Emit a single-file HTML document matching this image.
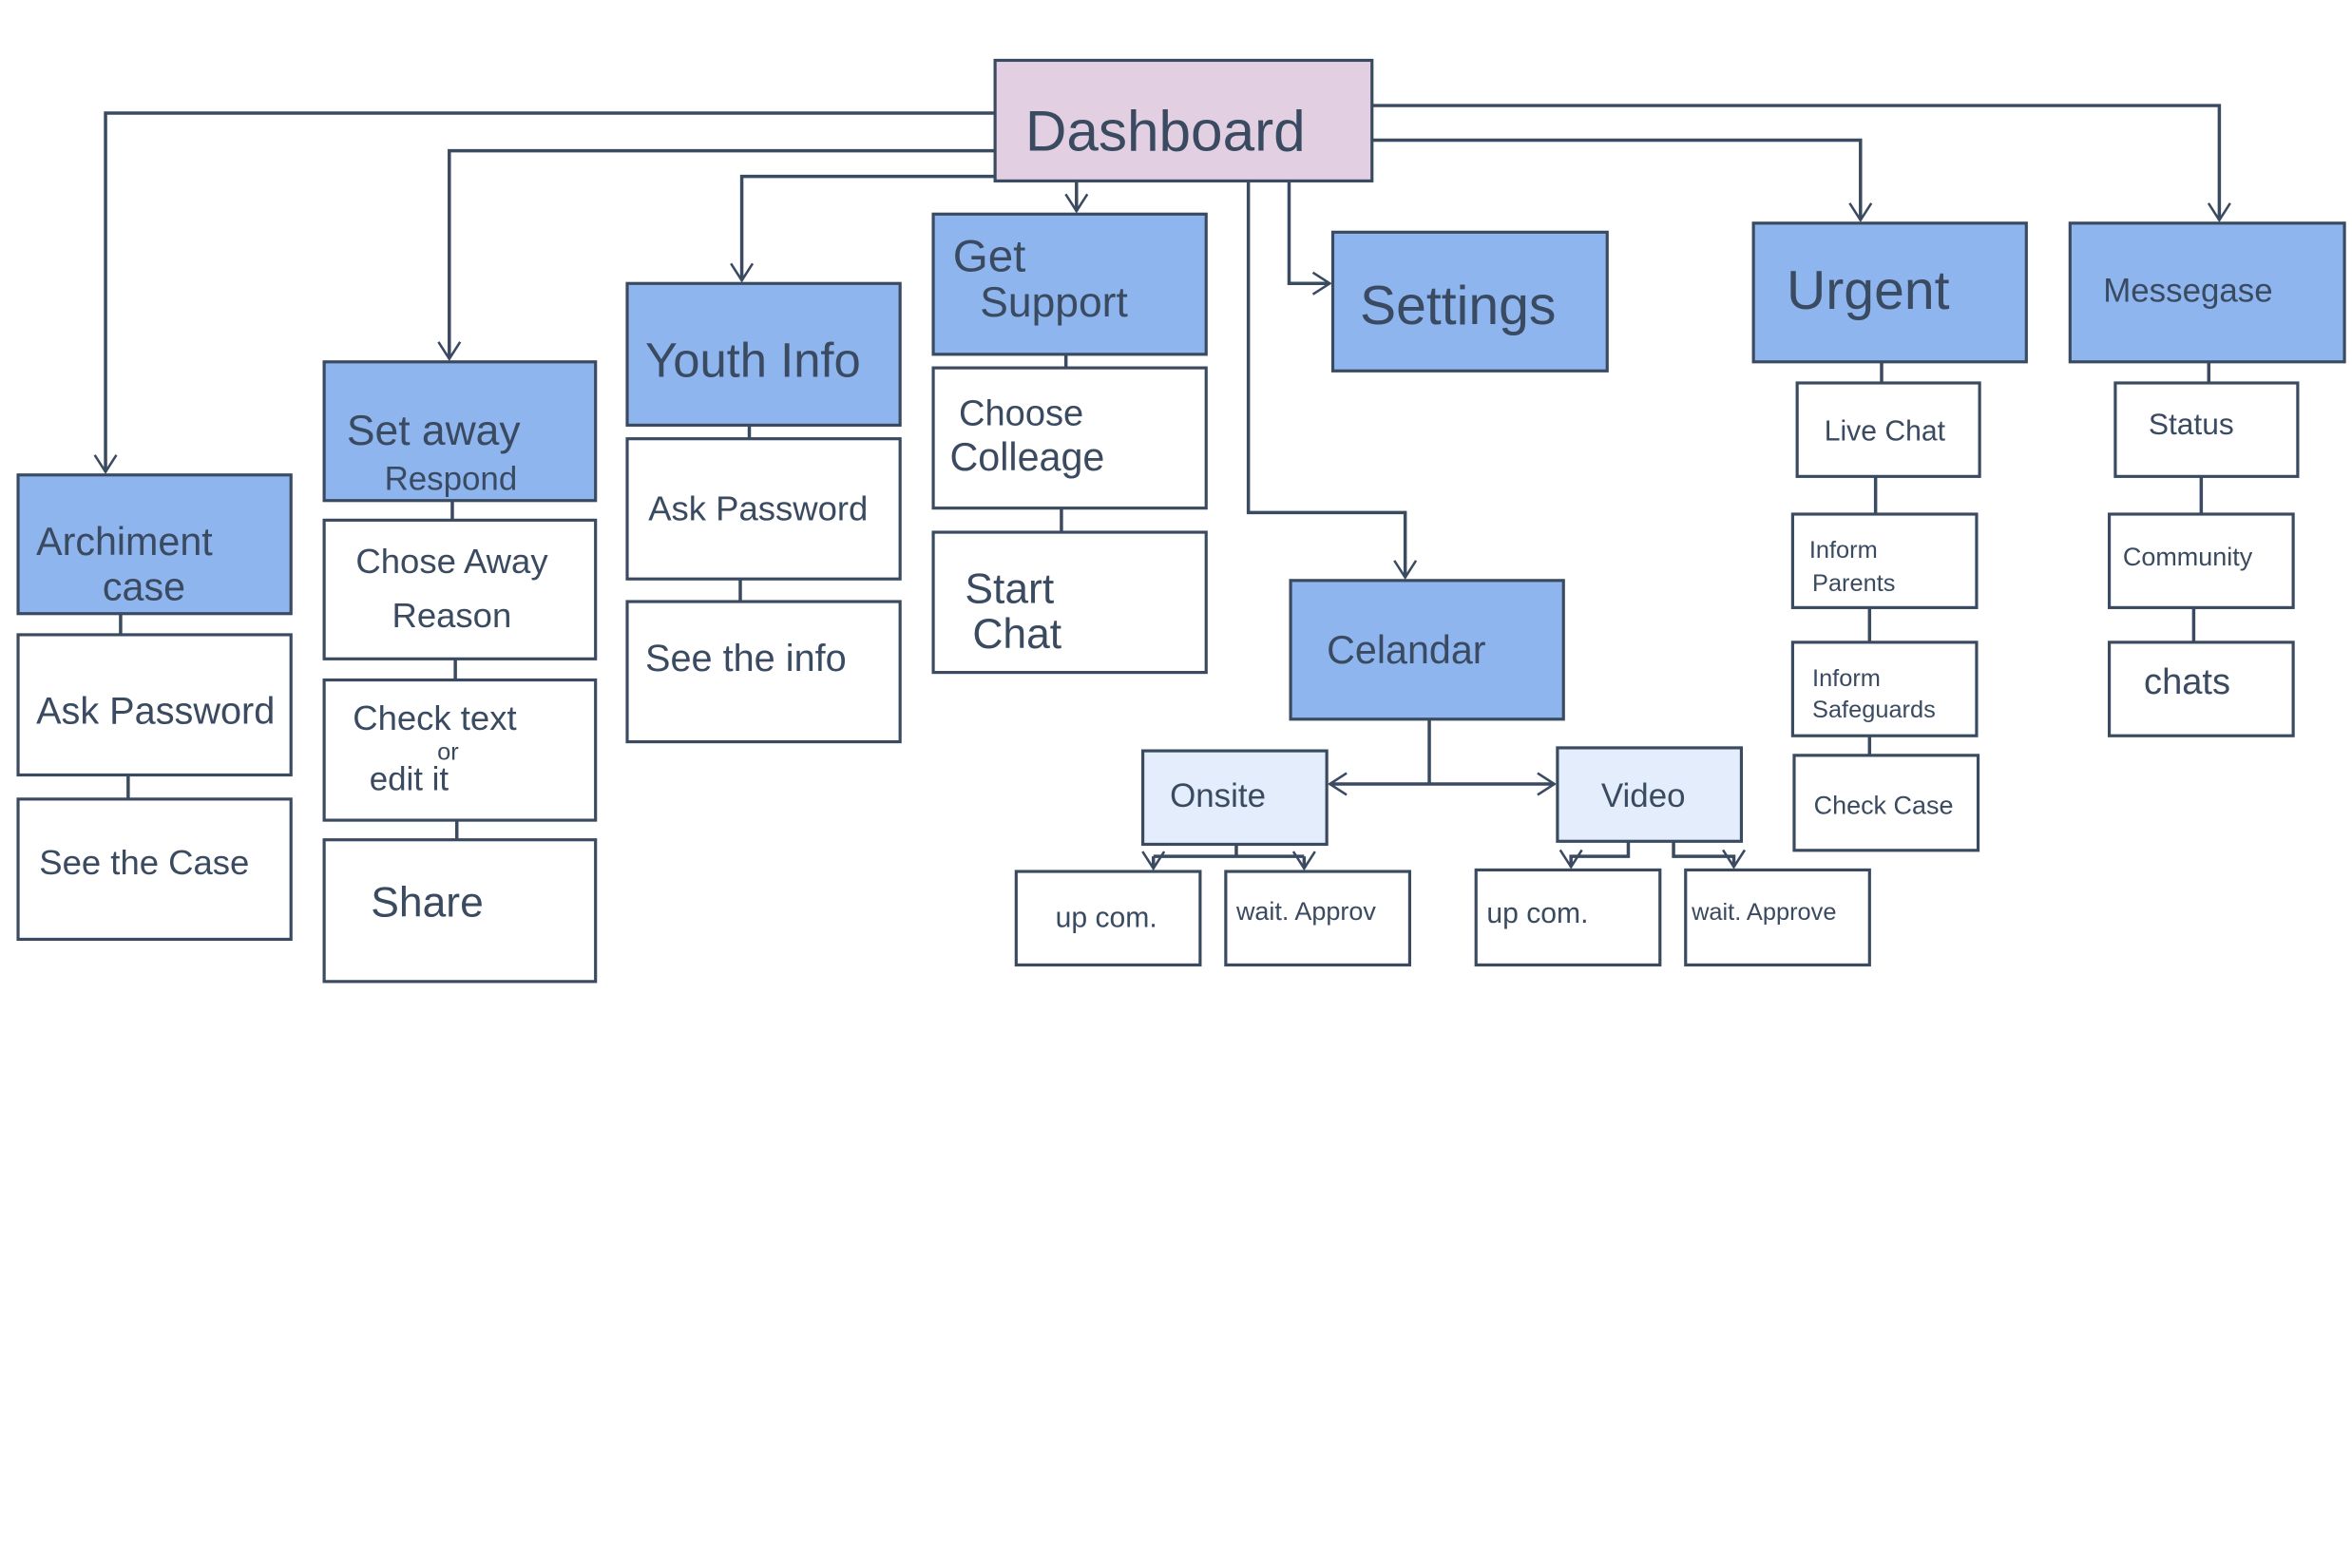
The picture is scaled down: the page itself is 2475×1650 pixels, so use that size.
<!DOCTYPE html>
<html><head><meta charset="utf-8"><style>
html,body{margin:0;padding:0;background:#fff;}
svg{display:block}
text{font-family:"Liberation Sans",sans-serif;fill:#3a4a60;}
</style></head><body>
<svg width="2475" height="1650" viewBox="0 0 1560 1040" xmlns="http://www.w3.org/2000/svg">
<defs>
<marker id="b" viewBox="0 0 20 20" refX="18" refY="10" markerWidth="16" markerHeight="16" orient="auto-start-reverse" markerUnits="userSpaceOnUse">
<path d="M4 1 L18 10 L4 19" fill="none" stroke="#3a4a60" stroke-width="2"/></marker>
</defs>
<g fill="none" stroke="#3a4a60" stroke-width="2.2">
<path d="M660 75 H70 V313" marker-end="url(#b)"/>
<path d="M660 100 H298 V238" marker-end="url(#b)"/>
<path d="M660 117 H492 V186" marker-end="url(#b)"/>
<path d="M714 120 V140" marker-end="url(#b)"/>
<path d="M855 120 V188 H882" marker-end="url(#b)"/>
<path d="M828 120 V340 H932 V383" marker-end="url(#b)"/>
<path d="M910 93 H1234 V146" marker-end="url(#b)"/>
<path d="M910 70 H1472 V146" marker-end="url(#b)"/>
<path d="M80 407 V421 M85 514 V530 M300 332 V345 M302 437 V451 M303 544 V557 M497 282 V291 M491 384 V399 M707 235 V244 M704 337 V353 M1248 240 V254 M1244 316 V341 M1240 403 V426 M1240 488 V501 M1465 240 V254 M1460 316 V341 M1455 403 V426"/>
<path d="M948 477 V520"/>
<path d="M882 520 H1031" marker-start="url(#b)" marker-end="url(#b)"/>
<path d="M820 560 V568 M765 568 H865"/>
<path d="M765 568 V576" marker-end="url(#b)"/>
<path d="M865 568 V576" marker-end="url(#b)"/>
<path d="M1080 558 V568 H1042 V575" marker-end="url(#b)"/>
<path d="M1110 558 V568 H1150 V575" marker-end="url(#b)"/>
</g>
<g stroke="#3a4a60" stroke-width="2">
<rect x="660" y="40" width="250" height="80" fill="#e2d0e2"/>
<g fill="#8fb5ef">
<rect x="12" y="315" width="181" height="92"/>
<rect x="215" y="240" width="180" height="92"/>
<rect x="416" y="188" width="181" height="94"/>
<rect x="619" y="142" width="181" height="93"/>
<rect x="884" y="154" width="182" height="92"/>
<rect x="1163" y="148" width="181" height="92"/>
<rect x="1373" y="148" width="182" height="92"/>
<rect x="856" y="385" width="181" height="92"/>
</g>
<g fill="#e3edfb">
<rect x="758" y="498" width="122" height="62"/>
<rect x="1033" y="496" width="122" height="62"/>
</g>
<g fill="#fff">
<rect x="12" y="421" width="181" height="93"/>
<rect x="12" y="530" width="181" height="93"/>
<rect x="215" y="345" width="180" height="92"/>
<rect x="215" y="451" width="180" height="93"/>
<rect x="215" y="557" width="180" height="94"/>
<rect x="416" y="291" width="181" height="93"/>
<rect x="416" y="399" width="181" height="93"/>
<rect x="619" y="244" width="181" height="93"/>
<rect x="619" y="353" width="181" height="93"/>
<rect x="1192" y="254" width="121" height="62"/>
<rect x="1189" y="341" width="122" height="62"/>
<rect x="1189" y="426" width="122" height="62"/>
<rect x="1190" y="501" width="122" height="63"/>
<rect x="1403" y="254" width="121" height="62"/>
<rect x="1399" y="341" width="122" height="62"/>
<rect x="1399" y="426" width="122" height="62"/>
<rect x="674" y="578" width="122" height="62"/>
<rect x="813" y="578" width="122" height="62"/>
<rect x="979" y="577" width="122" height="63"/>
<rect x="1118" y="577" width="122" height="63"/>
</g>
</g>
<g>
<text x="680" y="100" font-size="38">Dashboard</text>
<text x="24" y="368" font-size="26">Archiment</text>
<text x="68" y="398" font-size="26">case</text>
<text x="230" y="295" font-size="28">Set away</text>
<text x="255" y="325" font-size="22">Respond</text>
<text x="428" y="250" font-size="32">Youth Info</text>
<text x="632" y="180" font-size="30">Get</text>
<text x="650" y="210" font-size="28">Support</text>
<text x="902" y="215" font-size="36">Settings</text>
<text x="1185" y="205" font-size="36">Urgent</text>
<text x="1395" y="200" font-size="22">Messegase</text>
<text x="880" y="440" font-size="26">Celandar</text>
<text x="24" y="480" font-size="25">Ask Password</text>
<text x="26" y="580" font-size="23">See the Case</text>
<text x="236" y="380" font-size="23">Chose Away</text>
<text x="260" y="416" font-size="23">Reason</text>
<text x="234" y="484" font-size="23">Check text</text>
<text x="290" y="504" font-size="16">or</text>
<text x="245" y="524" font-size="22">edit it</text>
<text x="246" y="608" font-size="28">Share</text>
<text x="430" y="345" font-size="23">Ask Password</text>
<text x="428" y="445" font-size="25">See the info</text>
<text x="636" y="282" font-size="24">Choose</text>
<text x="630" y="312" font-size="26">Colleage</text>
<text x="640" y="400" font-size="28">Start</text>
<text x="645" y="430" font-size="28">Chat</text>
<text x="1210" y="292" font-size="19">Live Chat</text>
<text x="1200" y="370" font-size="16">Inform</text>
<text x="1202" y="392" font-size="16">Parents</text>
<text x="1202" y="455" font-size="16">Inform</text>
<text x="1202" y="476" font-size="16">Safeguards</text>
<text x="1203" y="540" font-size="17">Check Case</text>
<text x="1425" y="288" font-size="20">Status</text>
<text x="1408" y="375" font-size="17">Community</text>
<text x="1422" y="460" font-size="24">chats</text>
<text x="776" y="535" font-size="22">Onsite</text>
<text x="1062" y="535" font-size="22">Video</text>
<text x="700" y="615" font-size="19">up com.</text>
<text x="820" y="610" font-size="17">wait. Approv</text>
<text x="986" y="612" font-size="19">up com.</text>
<text x="1122" y="610" font-size="16">wait. Approve</text>
</g>
</svg>
</body></html>
